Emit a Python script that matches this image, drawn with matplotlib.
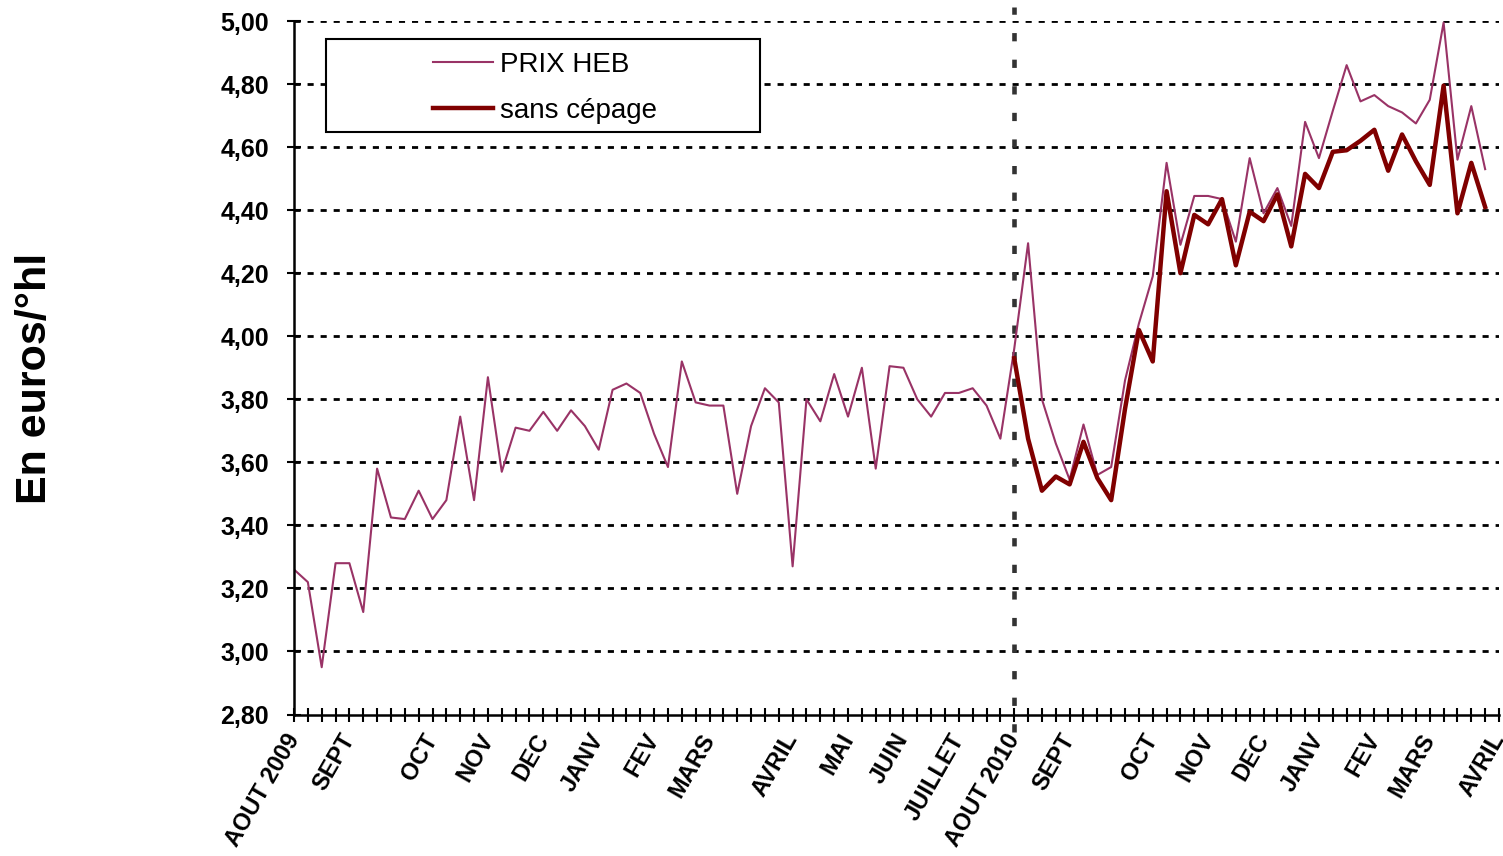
import numpy as np
import matplotlib
matplotlib.use("Agg")
import matplotlib.pyplot as plt
from matplotlib.patches import Rectangle

# ---- data (weekly, index 0 = AOUT 2009) ----
prix_heb = [3.26, 3.22, 2.95, 3.28, 3.28, 3.125, 3.58, 3.425, 3.42, 3.51,
            3.42, 3.48, 3.745, 3.48, 3.87, 3.57, 3.71, 3.70, 3.76, 3.70,
            3.765, 3.715, 3.64, 3.83, 3.85, 3.82, 3.69, 3.585, 3.92, 3.79,
            3.78, 3.78, 3.50, 3.715, 3.835, 3.79, 3.27, 3.80, 3.73, 3.88,
            3.745, 3.90, 3.58, 3.905, 3.90, 3.80, 3.745, 3.82, 3.82, 3.835,
            3.78, 3.675, 3.96, 4.295, 3.80, 3.66, 3.545, 3.72, 3.56, 3.585,
            3.86, 4.04, 4.19, 4.55, 4.29, 4.445, 4.445, 4.435, 4.30, 4.565,
            4.39, 4.47, 4.35, 4.68, 4.565, 4.715, 4.86, 4.745, 4.765, 4.73,
            4.71, 4.675, 4.75, 4.995, 4.56, 4.73, 4.53]
sans_cepage_start = 52
sans_cepage = [3.93, 3.675, 3.51, 3.555, 3.53, 3.665, 3.55, 3.48, 3.77, 4.02,
               3.92, 4.46, 4.20, 4.385, 4.355, 4.435, 4.225, 4.395, 4.365, 4.45,
               4.285, 4.515, 4.47, 4.585, 4.59, 4.62, 4.655, 4.525, 4.64, 4.555,
               4.48, 4.795, 4.39, 4.55, 4.41]
month_labels = ["AOUT 2009", "SEPT", "OCT", "NOV", "DEC", "JANV", "FEV", "MARS",
                "AVRIL", "MAI", "JUIN", "JUILLET", "AOUT 2010", "SEPT", "OCT",
                "NOV", "DEC", "JANV", "FEV", "MARS", "AVRIL"]
month_pos = [0, 4, 10, 14, 18, 22, 26, 30, 36, 40, 44, 48, 52, 56, 62, 66, 70,
             74, 78, 82, 87]
y_ticks = [2.80, 3.00, 3.20, 3.40, 3.60, 3.80, 4.00, 4.20, 4.40, 4.60, 4.80, 5.00]
n_weeks = 88

plt.rcParams['font.family'] = ['Liberation Sans', 'DejaVu Sans']

fig = plt.figure(figsize=(15.03, 8.56), dpi=100)
ax = fig.add_axes([294/1503, 1-714.5/856, (1499-294)/1503, (714.5-21)/856])

x_heb = np.arange(len(prix_heb))
x_sc = np.arange(sans_cepage_start, sans_cepage_start + len(sans_cepage))

# grid lines
for v in y_ticks[1:]:
    ax.axhline(v, color='black', lw=2, linestyle=(0, (2.2, 2.5)), zorder=1)

ax.plot(x_heb, prix_heb, color='#993366', lw=1.5, label='PRIX HEB', zorder=3)
ax.plot(x_sc, sans_cepage, color='#800000', lw=3.2, label='sans cépage', zorder=4)

# vertical separator at AOUT 2010
ax.axvline(52, ymin=-0.025, ymax=1.02, color='#333333', lw=3.3,
           linestyle=(0, (1.8, 4.0)), clip_on=False, zorder=2)

ax.set_xlim(0, n_weeks - 1)
ax.set_ylim(2.80, 5.00)
ax.set_yticks(y_ticks)
ax.set_yticklabels([f"{v:.2f}".replace('.', ',') for v in y_ticks],
                   fontsize=18, fontweight='bold')
ax.set_xticks(np.arange(n_weeks), minor=True)
ax.set_xticks(month_pos)
ax.set_xticklabels(month_labels, fontsize=17, fontweight='bold', rotation=60,
                   ha='right', va='center', rotation_mode='anchor')
ax.tick_params(axis='y', direction='inout', length=10, width=1.5, pad=13)
ax.tick_params(axis='x', which='both', direction='inout', length=10, width=1.5, pad=10)

for s in ['top', 'right']:
    ax.spines[s].set_visible(False)
for s in ['left', 'bottom']:
    ax.spines[s].set_linewidth(1.8)
    ax.spines[s].set_zorder(5)

# legend
box = Rectangle(((326-294)/1205, (714.5-132)/693.5), (760-326)/1205, (132-39)/693.5,
                transform=ax.transAxes, facecolor='white', edgecolor='black',
                lw=1.5, zorder=6)
ax.add_patch(box)
leg = ax.legend(loc='upper left', bbox_to_anchor=((433-294)/1205, (714.5-52)/693.5),
                frameon=False, fontsize=20, borderpad=0, borderaxespad=0,
                handlelength=2.15, handletextpad=0.25, labelspacing=0.72)
leg.set_zorder(7)

fig.text(35/1503, 1-378/856, "En euros/°hl", rotation=90, fontsize=31,
         fontweight='bold', ha='center', va='center')

fig.savefig('out.png', dpi=100)
